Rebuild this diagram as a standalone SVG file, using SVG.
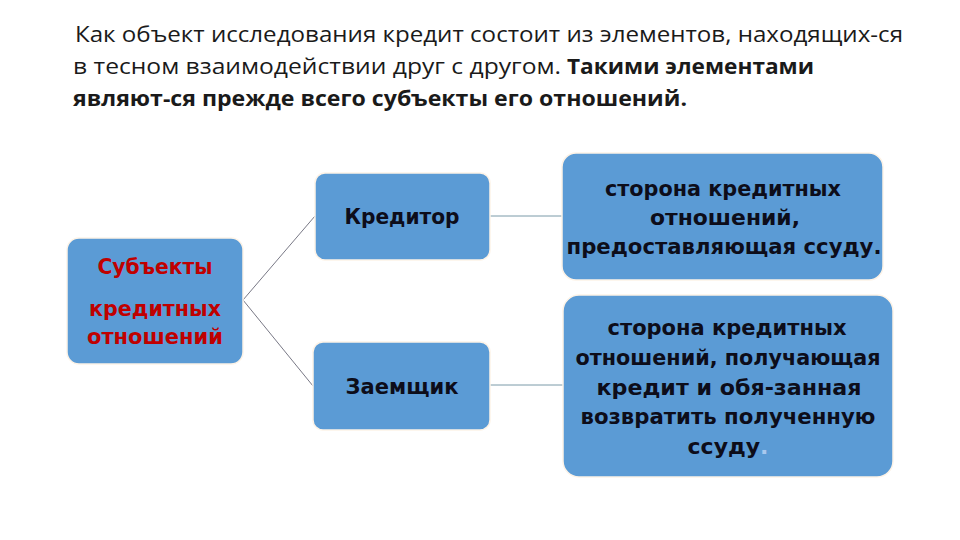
<svg xmlns="http://www.w3.org/2000/svg" width="960" height="540" viewBox="0 0 960 540">
<style>
.title{font-family:"Open Sans","Noto Sans",sans-serif;font-size:22px;fill:#1a1a1a}
.b{font-weight:bold}
.box{fill:#5B9BD5;stroke:#FDF3E7;stroke-width:1.5}
.t{font-family:"DejaVu Sans","Noto Sans",sans-serif;font-weight:bold;font-size:22px;fill:#0d0d1a;text-anchor:middle}
.red{fill:#C00000}
.conn{stroke:#556;stroke-width:0.8;fill:none}
.conn2{stroke:#7a9aa8;stroke-width:1;fill:none}
</style>
<rect width="960" height="540" fill="#ffffff"/>
<g id="title">
<text class="title" x="75" y="42" textLength="828" lengthAdjust="spacingAndGlyphs">Как объект исследования кредит состоит из элементов, находящих-ся</text>
<text class="title" x="73" y="74"><tspan textLength="488" lengthAdjust="spacingAndGlyphs">в тесном взаимодействии друг с другом.</tspan><tspan class="b" x="567" textLength="247" lengthAdjust="spacingAndGlyphs">Такими элементами</tspan></text>
<text class="title b" x="73" y="106" textLength="614" lengthAdjust="spacingAndGlyphs">являют-ся прежде всего субъекты его отношений.</text>
</g>
<g id="connectors">
<line class="conn" x1="243" y1="300" x2="315" y2="216"/>
<line class="conn" x1="243" y1="300" x2="313" y2="386"/>
<line class="conn2" x1="490" y1="216" x2="562" y2="216"/>
<line class="conn2" x1="490" y1="385" x2="563" y2="385"/>
</g>
<g id="subjects">
<rect class="box" x="67" y="238" width="176" height="126" rx="12"/>
<text class="t red" x="155" y="274" textLength="115" lengthAdjust="spacingAndGlyphs">Субъекты</text>
<text class="t red" x="155" y="316" textLength="132" lengthAdjust="spacingAndGlyphs">кредитных</text>
<text class="t red" x="155" y="344" textLength="136" lengthAdjust="spacingAndGlyphs">отношений</text>
</g>
<g id="creditor">
<rect class="box" x="315" y="173" width="175" height="87" rx="10"/>
<text class="t" x="402" y="224" textLength="115" lengthAdjust="spacingAndGlyphs">Кредитор</text>
</g>
<g id="borrower">
<rect class="box" x="313" y="342" width="177" height="88" rx="10"/>
<text class="t" x="402" y="394" textLength="113" lengthAdjust="spacingAndGlyphs">Заемщик</text>
</g>
<g id="creditor-desc">
<rect class="box" x="562" y="153" width="321" height="127" rx="14"/>
<text class="t" x="723" y="196" textLength="236" lengthAdjust="spacingAndGlyphs">сторона кредитных</text>
<text class="t" x="725" y="225" textLength="150" lengthAdjust="spacingAndGlyphs">отношений,</text>
<text class="t" x="724" y="254" textLength="315" lengthAdjust="spacingAndGlyphs">предоставляющая ссуду.</text>
</g>
<g id="borrower-desc">
<rect class="box" x="563" y="295" width="330" height="182" rx="16"/>
<text class="t" x="727" y="335" textLength="239" lengthAdjust="spacingAndGlyphs">сторона кредитных</text>
<text class="t" x="728" y="365" textLength="305" lengthAdjust="spacingAndGlyphs">отношений, получающая</text>
<text class="t" x="729" y="395" textLength="265" lengthAdjust="spacingAndGlyphs">кредит и обя-занная</text>
<text class="t" x="728" y="424" textLength="295" lengthAdjust="spacingAndGlyphs">возвратить полученную</text>
<text class="t" x="728" y="454">ссуду<tspan fill="#A9C8EE">.</tspan></text>
</g>
</svg>
